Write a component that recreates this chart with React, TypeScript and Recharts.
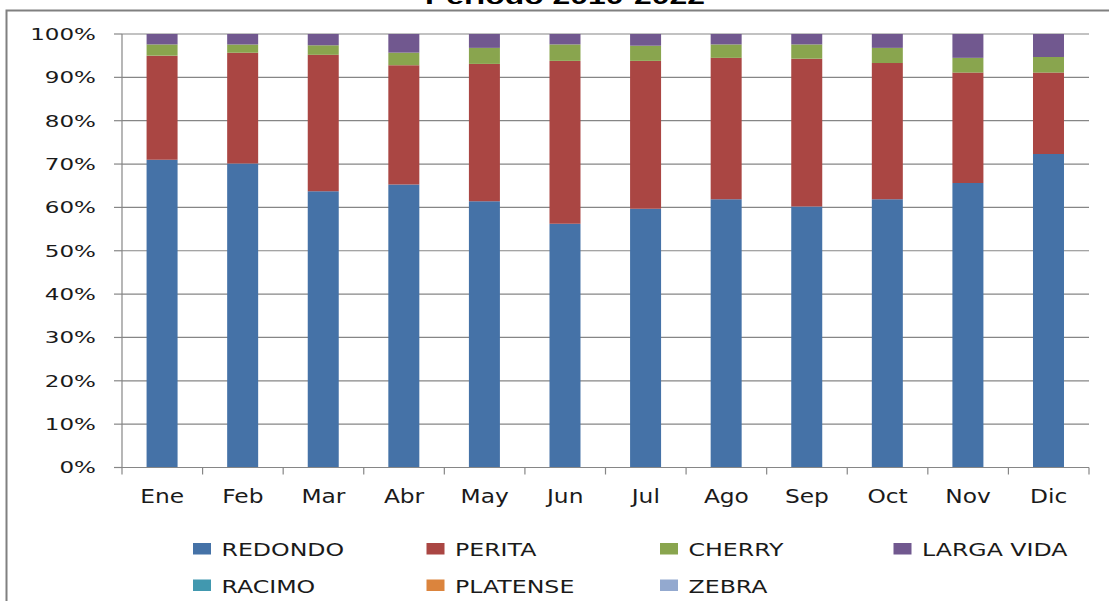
import React from 'react';
import { BarChart, Bar, XAxis, YAxis, CartesianGrid } from 'recharts';

const MONTHS = ['Ene', 'Feb', 'Mar', 'Abr', 'May', 'Jun', 'Jul', 'Ago', 'Sep', 'Oct', 'Nov', 'Dic'];
const REDONDO = [71.0, 70.1, 63.7, 65.3, 61.4, 56.2, 59.7, 61.9, 60.2, 61.9, 65.6, 72.3];
const PERITA = [24.0, 25.6, 31.5, 27.5, 31.7, 37.6, 34.1, 32.6, 34.1, 31.4, 25.5, 18.8];
const CHERRY = [2.6, 1.9, 2.2, 2.9, 3.7, 3.8, 3.5, 3.1, 3.3, 3.5, 3.4, 3.6];
const LARGA_VIDA = [2.4, 2.4, 2.6, 4.3, 3.2, 2.4, 2.7, 2.4, 2.4, 3.2, 5.5, 5.3];
const RACIMO = [0, 0, 0, 0, 0, 0, 0, 0, 0, 0, 0, 0];
const PLATENSE = [0, 0, 0, 0, 0, 0, 0, 0, 0, 0, 0, 0];
const ZEBRA = [0, 0, 0, 0, 0, 0, 0, 0, 0, 0, 0, 0];
const Y_TICKS = [0, 0.1, 0.2, 0.3, 0.4, 0.5, 0.6, 0.7, 0.8, 0.9, 1];
const TITLE = 'Periodo 2010-2022';

const SERIES = [
  { name: 'REDONDO', values: REDONDO, color: '#4572A7' },
  { name: 'PERITA', values: PERITA, color: '#AA4643' },
  { name: 'CHERRY', values: CHERRY, color: '#89A54E' },
  { name: 'LARGA VIDA', values: LARGA_VIDA, color: '#71588F' },
  { name: 'RACIMO', values: RACIMO, color: '#4198AF' },
  { name: 'PLATENSE', values: PLATENSE, color: '#DB843D' },
  { name: 'ZEBRA', values: ZEBRA, color: '#93A9CF' },
];

const data = MONTHS.map((m, i) => {
  const row: any = { month: m };
  SERIES.forEach((s) => {
    row[s.name] = s.values[i];
  });
  return row;
});

const GRID = '#868686';
const FONT = "'DejaVu Sans', Verdana, sans-serif";
const W = 1109;
const H = 601;
const PLOT_LEFT = 122;
const PLOT_RIGHT = 1089;

const XTick = (props: any) => {
  const { x, y, payload, index } = props;
  const half =
    payload && typeof payload.offset === 'number' && payload.offset > 0
      ? payload.offset
      : (PLOT_RIGHT - PLOT_LEFT) / MONTHS.length / 2;
  return (
    <g>
      <line x1={x - half} x2={x - half} y1={y} y2={y + 7} stroke={GRID} strokeWidth={1.2} />
      {index === MONTHS.length - 1 && (
        <line x1={x + half} x2={x + half} y1={y} y2={y + 7} stroke={GRID} strokeWidth={1.2} />
      )}
      <text
        transform={`translate(${x},${y + 35}) scale(1.19,1)`}
        textAnchor="middle"
        fontFamily={FONT}
        fontSize={19.6}
        fill="#1a1a1a"
      >
        {payload.value}
      </text>
    </g>
  );
};

const YTick = (props: any) => {
  const { x, y, payload } = props;
  return (
    <g>
      <line x1={x - 8} x2={x} y1={y} y2={y} stroke={GRID} strokeWidth={1.2} />
      <text
        transform={`translate(${x - 26},${y + 5.8}) scale(1.44,1)`}
        textAnchor="end"
        fontFamily={FONT}
        fontSize={16}
        fill="#1a1a1a"
      >
        {`${Math.round(payload.value * 100)}%`}
      </text>
    </g>
  );
};

export default function App() {
  return (
    <div style={{ position: 'absolute', left: 0, top: 0, width: W, height: H, background: '#fff', overflow: 'hidden' }}>
      <BarChart
        width={W}
        height={H}
        data={data}
        stackOffset="expand"
        barCategoryGap="30.5%"
        margin={{ top: 34, right: W - PLOT_RIGHT, bottom: 93.5, left: 0 }}
      >
        <CartesianGrid vertical={false} stroke={GRID} strokeWidth={1.2} />
        <XAxis
          dataKey="month"
          height={40}
          axisLine={{ stroke: GRID, strokeWidth: 1.2 }}
          tickLine={false}
          tickSize={0}
          tickMargin={0}
          interval={0}
          tick={<XTick />}
        />
        <YAxis
          width={PLOT_LEFT}
          domain={[0, 1]}
          ticks={Y_TICKS}
          axisLine={{ stroke: GRID, strokeWidth: 1.2 }}
          tickLine={false}
          tickSize={0}
          tickMargin={0}
          interval={0}
          tick={<YTick />}
        />
        {SERIES.map((s) => (
          <Bar key={s.name} dataKey={s.name} stackId="a" fill={s.color} isAnimationActive={false} />
        ))}
      </BarChart>
      <svg
        width={W}
        height={H}
        style={{ position: 'absolute', left: 0, top: 0, pointerEvents: 'none' }}
      >
        <path d={`M 6.5 ${H} V 10.5 H ${W}`} fill="none" stroke="#808080" strokeWidth={2} />
        <text
          transform={`translate(565,3.5) scale(1.45,1)`}
          textAnchor="middle"
          fontFamily="'Liberation Sans', Arial, sans-serif"
          fontWeight="bold"
          fontSize={22}
          fill="#000"
        >
          {TITLE}
        </text>
        {SERIES.map((s, i) => {
          const col = i % 4;
          const row = Math.floor(i / 4);
          const sx = 193 + col * 233.5;
          const sy = row === 0 ? 543 : 579.5;
          return (
            <g key={s.name}>
              <rect x={sx} y={sy} width={18} height={11.5} fill={s.color} />
              <text
                transform={`translate(${sx + 28.5},${sy + 13}) scale(1.36,1)`}
                fontFamily={FONT}
                fontSize={17.4}
                fill="#1a1a1a"
              >
                {s.name}
              </text>
            </g>
          );
        })}
      </svg>
    </div>
  );
}
